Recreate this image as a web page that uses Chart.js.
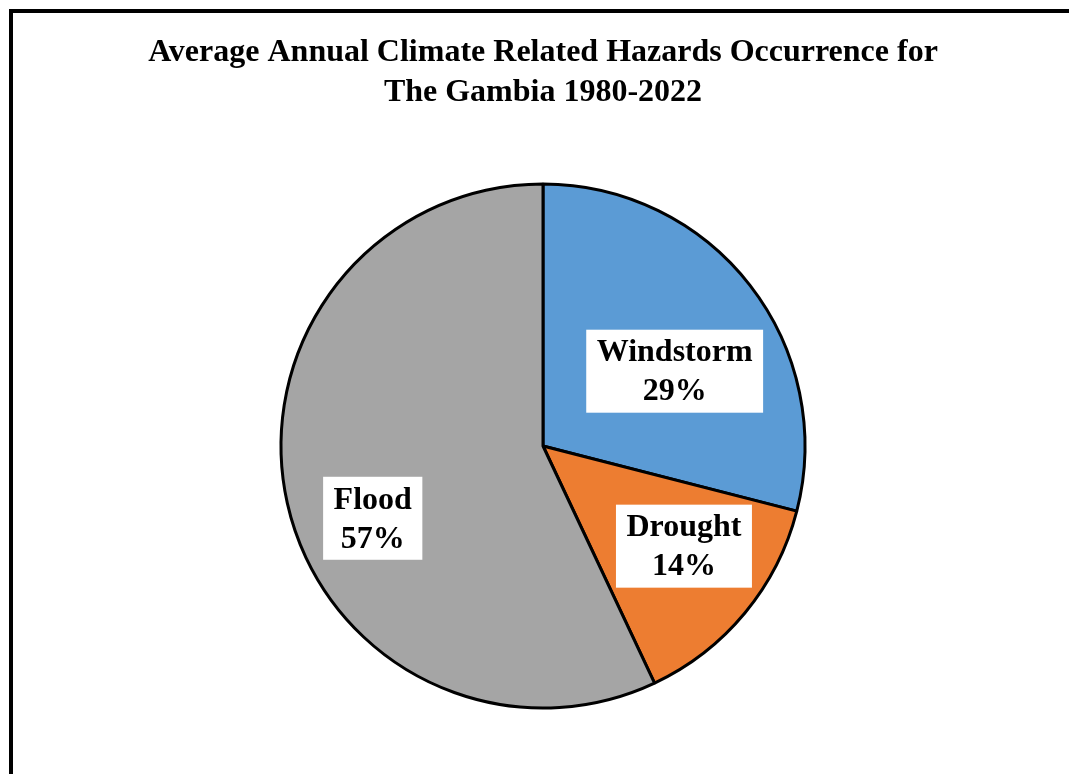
<!DOCTYPE html>
<html>
<head>
<meta charset="utf-8">
<script src="https://cdn.jsdelivr.net/npm/chart.js@4.4.1/dist/chart.umd.min.js"></script>
<style>
  html, body { margin: 0; padding: 0; background: #fff; overflow: hidden; }
  body { width: 1069px; height: 774px; position: relative; }
  #frame { position: absolute; left: 9px; top: 9px; width: 1200px; height: 900px; border: 4px solid #000; box-sizing: border-box; }
  #wrap { position: absolute; left: 0; top: 0; width: 1069px; height: 774px; }
</style>
</head>
<body>
<div id="frame"></div>
<div id="wrap"><canvas id="c" width="1069" height="774"></canvas></div>
<script>
const categories = ["Windstorm", "Drought", "Flood"];
const shares = [29, 14, 57];
const titleLines = ["Average Annual Climate Related Hazards Occurrence for", "The Gambia 1980-2022"];

const sliceColors = ["#5B9BD5", "#ED7D31", "#A5A5A5"];
const FONT = "'Liberation Serif', 'Times New Roman', serif";
// label placement: fraction of radius and angle shift (degrees) from slice bisector
const labelPlacement = [
  { rFrac: 0.578, dAngle: 8.2 },
  { rFrac: 0.660, dAngle: -4.2 },
  { rFrac: 0.706, dAngle: -10.4 }
];

const labelBoxes = {
  id: 'labelBoxes',
  afterDatasetsDraw(chart) {
    const ctx = chart.ctx;
    const meta = chart.getDatasetMeta(0);
    const total = shares.reduce((a, b) => a + b, 0);
    ctx.save();
    ctx.font = "bold 32px " + FONT;
    ctx.textAlign = 'center';
    ctx.textBaseline = 'middle';
    meta.data.forEach((arc, i) => {
      const p = arc.getProps(['x', 'y', 'startAngle', 'endAngle', 'outerRadius'], true);
      const mid = (p.startAngle + p.endAngle) / 2 + labelPlacement[i].dAngle * Math.PI / 180;
      const r = p.outerRadius * labelPlacement[i].rFrac;
      const cx = p.x + Math.cos(mid) * r;
      const cy = p.y + Math.sin(mid) * r;
      const l1 = categories[i];
      const l2 = Math.round(shares[i] / total * 100) + '%';
      const w = Math.max(ctx.measureText(l1).width, ctx.measureText(l2).width) + 21;
      const h = 83;
      ctx.fillStyle = '#fff';
      ctx.fillRect(cx - w / 2, cy - h / 2, w, h);
      ctx.fillStyle = '#000';
      ctx.fillText(l1, cx, cy - 18);
      ctx.fillText(l2, cx, cy + 21);
    });
    ctx.restore();
  }
};

new Chart(document.getElementById('c'), {
  type: 'pie',
  data: {
    labels: categories,
    datasets: [{
      data: shares,
      backgroundColor: sliceColors,
      borderColor: '#000',
      borderWidth: 3,
      radius: 262
    }]
  },
  options: {
    responsive: false,
    animation: false,
    layout: { padding: { left: 17, right: 0, top: 0, bottom: 0 } },
    plugins: {
      legend: { display: false },
      tooltip: { enabled: false },
      title: {
        display: true,
        text: titleLines,
        color: '#000',
        font: { family: FONT, size: 32, weight: 'bold', lineHeight: '40px' },
        padding: { top: 33, bottom: 5 }
      }
    }
  },
  plugins: [labelBoxes]
});
</script>
</body>
</html>
